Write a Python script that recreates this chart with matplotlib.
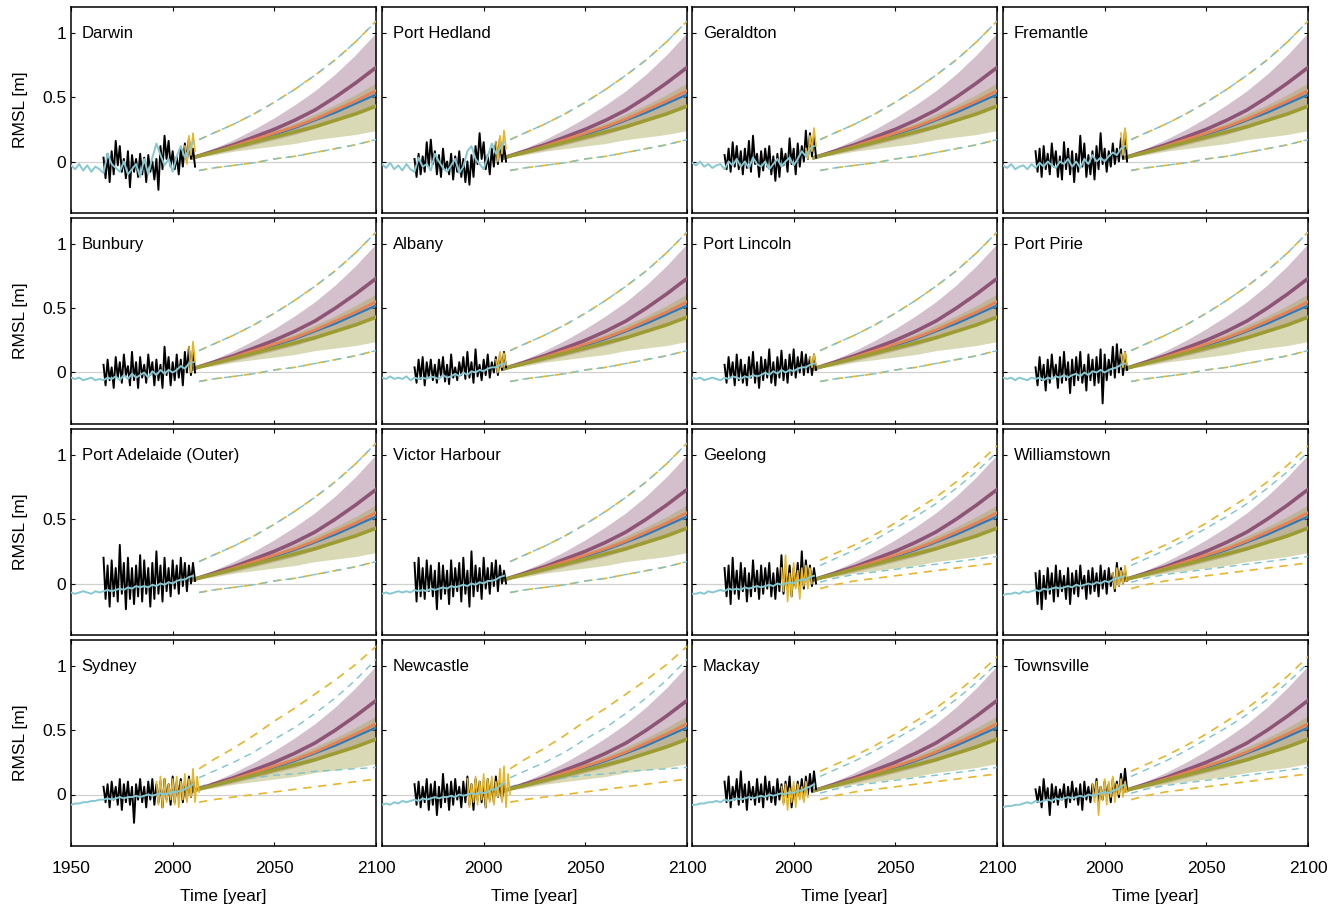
import numpy as np
import matplotlib.pyplot as plt

plt.rcParams['font.family'] = ['Liberation Sans', 'DejaVu Sans']

# time axes shared by the stations
blue_years = list(range(1950, 2011, 2))
obs_start = 1966
proj_years = [2010, 2020, 2030, 2040, 2050, 2060, 2070, 2080, 2090, 2100]

# projections (m), read at decade points
purple_mid = [0.03, 0.08, 0.13, 0.19, 0.25, 0.32, 0.40, 0.50, 0.61, 0.73]
purple_hi = [0.03, 0.10, 0.17, 0.25, 0.34, 0.44, 0.55, 0.68, 0.83, 1.00]
purple_lo = [0.03, 0.06, 0.09, 0.13, 0.17, 0.21, 0.26, 0.32, 0.38, 0.45]
olive_mid = [0.03, 0.07, 0.11, 0.15, 0.19, 0.23, 0.27, 0.32, 0.37, 0.43]
olive_hi = [0.03, 0.08, 0.13, 0.18, 0.24, 0.30, 0.37, 0.44, 0.52, 0.61]
olive_lo = [0.03, 0.05, 0.08, 0.10, 0.12, 0.14, 0.17, 0.19, 0.21, 0.24]
orange_mid = [0.03, 0.07, 0.12, 0.17, 0.22, 0.27, 0.33, 0.40, 0.47, 0.55]
blue_mid = [0.03, 0.07, 0.11, 0.16, 0.21, 0.26, 0.32, 0.38, 0.45, 0.52]

# dashed envelopes
dash_years = [2013, 2020, 2030, 2040, 2050, 2060, 2070, 2080, 2090, 2100]
teal_up = [0.17, 0.22, 0.29, 0.37, 0.46, 0.56, 0.67, 0.79, 0.93, 1.09]
teal_lo = [-0.07, -0.05, -0.03, -0.01, 0.02, 0.04, 0.07, 0.10, 0.13, 0.17]
teal_up_near = [0.14, 0.19, 0.26, 0.34, 0.43, 0.52, 0.62, 0.74, 0.87, 1.02]
teal_lo_near = [0.01, 0.04, 0.07, 0.09, 0.11, 0.13, 0.15, 0.17, 0.19, 0.21]
gold_up_near = [0.18, 0.23, 0.30, 0.38, 0.47, 0.57, 0.67, 0.79, 0.92, 1.07]
gold_lo_near = [-0.04, -0.01, 0.02, 0.04, 0.06, 0.08, 0.10, 0.12, 0.14, 0.16]
gold_up_wide = [0.20, 0.27, 0.36, 0.46, 0.57, 0.67, 0.78, 0.89, 1.01, 1.15]
gold_lo_wide = [-0.06, -0.04, -0.02, 0.00, 0.02, 0.04, 0.06, 0.08, 0.10, 0.12]
teal_up_wide = [0.13, 0.18, 0.25, 0.33, 0.43, 0.52, 0.63, 0.75, 0.89, 1.05]
teal_lo_wide = [0.06, 0.09, 0.11, 0.13, 0.15, 0.16, 0.18, 0.19, 0.20, 0.21]

# --- station records: smoothed (blue), black gauge highs/lows per 2-yr, optional gold gauge ---
darwin_blue = [-0.03, -0.06, -0.02, -0.07, -0.03, -0.08, -0.04, -0.06, -0.09, 0.06, -0.02, -0.05, -0.08, 0.0, -0.1, -0.06,
               -0.02, -0.12, 0.02, -0.1, 0.03, 0.14, 0.05, -0.03, 0.02, -0.08, 0.04, 0.12, 0.03, 0.09, 0.15]
darwin_hi = [0.03, 0.06, 0.08, 0.16, 0.12, 0.02, 0.08, 0.05, 0.02, 0.06, 0.03, 0.05, 0.0, 0.02, 0.12, 0.2, 0.16, 0.08, 0.04, 0.1, 0.14, 0.18, 0.1]
darwin_lo = [-0.13, -0.16, -0.1, -0.03, -0.08, -0.13, -0.2, -0.08, -0.12, -0.1, -0.16, -0.08, -0.14, -0.22, -0.06, 0.02, -0.04, -0.06, -0.1, -0.04, 0.0, 0.02, -0.04]
darwin_gold = (2006, [0.12, 0.2, 0.22], [-0.02, 0.05, 0.08])

hedland_blue = [-0.02, -0.05, -0.01, -0.06, -0.03, -0.07, -0.02, -0.06, -0.08, 0.03, -0.04, -0.02, -0.07, 0.06, 0.0, -0.05,
                -0.08, -0.03, 0.02, -0.09, -0.04, 0.08, 0.12, 0.02, -0.02, -0.06, 0.04, 0.14, 0.06, 0.1, 0.15]
hedland_hi = [0.02, 0.06, 0.04, 0.15, 0.17, 0.08, 0.05, 0.1, 0.0, 0.06, 0.04, 0.08, 0.02, 0.0, 0.05, 0.12, 0.22, 0.15, 0.05, 0.1, 0.15, 0.18, 0.12]
hedland_lo = [-0.12, -0.1, -0.08, -0.04, -0.02, -0.1, -0.12, -0.06, -0.1, -0.14, -0.08, -0.12, -0.16, -0.18, -0.12, -0.02, 0.02, -0.06, -0.1, -0.04, -0.02, 0.0, 0.0]
hedland_gold = (2006, [0.15, 0.2, 0.24], [0.0, 0.06, 0.1])

geraldton_blue = [-0.01, -0.03, 0.0, -0.04, -0.02, -0.05, -0.03, -0.02, -0.06, 0.0, -0.03, 0.02, -0.04, 0.0, -0.05, 0.03,
                  -0.02, -0.04, 0.0, -0.06, -0.02, 0.02, -0.04, 0.0, 0.03, -0.03, 0.02, 0.08, 0.04, 0.1, 0.12]
geraldton_hi = [0.05, 0.1, 0.15, 0.12, 0.08, 0.1, 0.16, 0.2, 0.06, 0.08, 0.1, 0.12, 0.04, 0.06, 0.1, 0.06, 0.18, 0.1, 0.14, 0.12, 0.24, 0.22, 0.2]
geraldton_lo = [-0.06, -0.08, -0.04, -0.06, -0.1, -0.05, -0.08, -0.02, -0.12, -0.07, -0.04, -0.1, -0.15, -0.12, -0.03, -0.08, -0.02, -0.1, -0.04, 0.0, 0.02, 0.04, 0.03]
geraldton_gold = (2006, [0.1, 0.2, 0.26], [0.02, 0.08, 0.12])

fremantle_blue = [-0.03, -0.05, -0.02, -0.06, -0.04, -0.03, -0.06, -0.02, -0.05, -0.01, -0.04, 0.0, -0.03, -0.05, 0.0, -0.02,
                  0.02, -0.04, 0.0, -0.05, 0.02, -0.02, 0.05, 0.0, 0.03, 0.0, 0.04, 0.07, 0.05, 0.1, 0.12]
fremantle_hi = [0.08, 0.1, 0.12, 0.06, 0.14, 0.08, 0.04, 0.15, 0.1, 0.08, 0.06, 0.2, 0.14, 0.05, 0.08, 0.12, 0.22, 0.1, 0.08, 0.14, 0.1, 0.18, 0.24]
fremantle_lo = [-0.08, -0.12, -0.06, -0.1, -0.04, -0.12, -0.14, -0.06, -0.1, -0.16, -0.08, -0.04, -0.12, -0.1, -0.14, -0.06, -0.02, -0.08, -0.04, -0.02, 0.0, 0.02, 0.0]
fremantle_gold = (2008, [0.22, 0.26], [0.05, 0.1])

bunbury_blue = [-0.04, -0.05, -0.04, -0.06, -0.05, -0.04, -0.06, -0.05, -0.06, -0.04, -0.05, -0.03, -0.06, -0.02, -0.05, -0.01,
                -0.04, -0.02, 0.0, -0.04, 0.01, -0.02, 0.02, -0.01, 0.02, 0.0, 0.02, 0.05, 0.03, 0.07, 0.08]
bunbury_hi = [0.06, 0.1, 0.04, 0.12, 0.08, 0.14, 0.05, 0.16, 0.08, 0.12, 0.06, 0.14, 0.08, 0.1, 0.06, 0.2, 0.12, 0.08, 0.14, 0.1, 0.16, 0.2, 0.18]
bunbury_lo = [-0.1, -0.06, -0.12, -0.04, -0.08, -0.02, -0.1, -0.06, -0.12, -0.04, -0.08, -0.02, -0.1, -0.06, -0.12, -0.02, -0.1, -0.06, -0.04, -0.1, 0.0, -0.02, 0.0]
bunbury_gold = (2008, [0.2, 0.24], [0.0, 0.08])

albany_blue = [-0.04, -0.05, -0.03, -0.05, -0.04, -0.05, -0.03, -0.06, -0.04, -0.05, -0.04, -0.05, -0.03, -0.04, -0.05, -0.02,
               -0.04, -0.03, -0.01, -0.03, 0.0, -0.02, 0.01, 0.0, 0.02, 0.01, 0.03, 0.04, 0.04, 0.06, 0.07]
albany_hi = [0.04, 0.1, 0.12, 0.08, 0.1, 0.06, 0.1, 0.12, 0.06, 0.14, 0.04, 0.08, 0.12, 0.16, 0.08, 0.18, 0.06, 0.1, 0.14, 0.08, 0.12, 0.14, 0.16]
albany_lo = [-0.08, -0.05, -0.1, -0.04, -0.06, -0.08, -0.03, -0.07, -0.09, -0.04, -0.06, -0.02, -0.05, -0.04, -0.08, -0.03, -0.06, -0.02, -0.04, 0.0, -0.02, 0.02, 0.04]
albany_gold = (2006, [0.1, 0.16, 0.15], [0.0, 0.04, 0.06])

lincoln_blue = [-0.04, -0.05, -0.04, -0.06, -0.05, -0.04, -0.05, -0.06, -0.04, -0.05, -0.03, -0.04, -0.05, -0.03, -0.04, -0.02,
                -0.03, -0.02, 0.0, -0.02, 0.01, -0.01, 0.02, 0.0, 0.02, 0.01, 0.03, 0.04, 0.04, 0.06, 0.07]
lincoln_hi = [0.06, 0.12, 0.08, 0.14, 0.1, 0.06, 0.12, 0.16, 0.08, 0.12, 0.1, 0.18, 0.08, 0.12, 0.17, 0.1, 0.14, 0.18, 0.12, 0.16, 0.14, 0.12, 0.14]
lincoln_lo = [-0.08, -0.04, -0.1, -0.06, -0.08, -0.1, -0.04, -0.08, -0.12, -0.06, -0.04, -0.08, -0.1, -0.04, -0.06, -0.08, -0.02, -0.04, 0.0, -0.02, 0.0, -0.02, 0.02]
lincoln_gold = (2008, [0.12, 0.14], [0.04, 0.06])

pirie_blue = [-0.04, -0.05, -0.04, -0.06, -0.04, -0.05, -0.06, -0.04, -0.05, -0.04, -0.06, -0.04, -0.05, -0.03, -0.04, -0.02,
              -0.04, -0.02, -0.01, -0.03, 0.0, -0.02, 0.01, 0.0, 0.02, 0.0, 0.02, 0.03, 0.04, 0.06, 0.07]
pirie_hi = [0.04, 0.12, 0.06, 0.1, 0.14, 0.06, 0.12, 0.16, 0.08, 0.1, 0.12, 0.16, 0.06, 0.14, 0.1, 0.12, 0.18, 0.14, 0.1, 0.2, 0.22, 0.18, 0.16]
pirie_lo = [-0.1, -0.06, -0.14, -0.08, -0.04, -0.12, -0.08, -0.06, -0.16, -0.1, -0.06, -0.08, -0.14, -0.06, -0.1, -0.08, -0.24, -0.06, -0.02, -0.04, 0.0, -0.02, 0.02]
pirie_gold = (2008, [0.14, 0.16], [0.04, 0.06])

adelaide_blue = [-0.07, -0.08, -0.07, -0.06, -0.07, -0.08, -0.06, -0.07, -0.06, -0.05, -0.06, -0.05, -0.04, -0.05, -0.03, -0.04,
                 -0.02, -0.03, -0.02, -0.03, -0.01, -0.02, 0.0, -0.01, 0.01, 0.0, 0.02, 0.03, 0.03, 0.05, 0.06]
adelaide_hi = [0.2, 0.14, 0.18, 0.12, 0.3, 0.16, 0.2, 0.12, 0.14, 0.22, 0.18, 0.12, 0.16, 0.25, 0.14, 0.2, 0.12, 0.18, 0.14, 0.2, 0.16, 0.14, 0.16]
adelaide_lo = [-0.12, -0.18, -0.1, -0.14, -0.08, -0.2, -0.12, -0.16, -0.1, -0.14, -0.08, -0.18, -0.12, -0.08, -0.14, -0.06, -0.1, -0.04, -0.08, -0.02, -0.06, 0.0, 0.02]

victor_blue = [-0.08, -0.07, -0.08, -0.07, -0.06, -0.07, -0.06, -0.07, -0.05, -0.06, -0.05, -0.06, -0.04, -0.05, -0.04, -0.03,
               -0.04, -0.02, -0.03, -0.02, -0.01, -0.02, 0.0, -0.01, 0.01, 0.0, 0.02, 0.02, 0.03, 0.05, 0.06]
victor_hi = [0.16, 0.2, 0.12, 0.18, 0.14, 0.1, 0.16, 0.14, 0.1, 0.18, 0.12, 0.16, 0.2, 0.1, 0.25, 0.14, 0.12, 0.2, 0.12, 0.16, 0.18, 0.14, 0.1]
victor_lo = [-0.14, -0.1, -0.12, -0.06, -0.1, -0.2, -0.12, -0.08, -0.16, -0.1, -0.06, -0.14, -0.08, -0.18, -0.1, -0.06, -0.12, -0.04, -0.08, -0.02, -0.06, 0.0, 0.0]

geelong_blue = [-0.08, -0.08, -0.07, -0.08, -0.06, -0.07, -0.06, -0.05, -0.06, -0.04, -0.05, -0.04, -0.05, -0.03, -0.04, -0.03,
                -0.02, -0.03, -0.02, -0.01, -0.02, 0.0, -0.01, 0.0, 0.01, 0.0, 0.02, 0.03, 0.03, 0.05, 0.06]
geelong_hi = [0.12, 0.14, 0.2, 0.1, 0.16, 0.12, 0.08, 0.18, 0.1, 0.14, 0.12, 0.16, 0.08, 0.12, 0.22, 0.1, 0.14, 0.12, 0.16, 0.25, 0.18, 0.14, 0.12]
geelong_lo = [-0.1, -0.16, -0.08, -0.12, -0.06, -0.14, -0.1, -0.06, -0.12, -0.08, -0.04, -0.1, -0.12, -0.06, -0.08, -0.04, -0.1, -0.02, -0.06, -0.04, 0.0, -0.02, 0.0]
geelong_gold = (1994, [0.12, 0.22, 0.08, 0.16, 0.1, 0.12, 0.14, 0.12], [-0.06, -0.14, -0.1, -0.04, -0.12, -0.02, -0.04, 0.0])

williams_blue = [-0.09, -0.08, -0.08, -0.07, -0.08, -0.06, -0.07, -0.06, -0.05, -0.06, -0.04, -0.05, -0.04, -0.03, -0.04, -0.03,
                 -0.02, -0.03, -0.01, -0.02, -0.01, 0.0, -0.01, 0.01, 0.0, 0.02, 0.01, 0.03, 0.04, 0.05, 0.06]
williams_hi = [0.08, 0.1, 0.06, 0.12, 0.08, 0.14, 0.1, 0.06, 0.12, 0.08, 0.1, 0.14, 0.06, 0.1, 0.12, 0.08, 0.14, 0.1, 0.12, 0.08, 0.16, 0.12, 0.1]
williams_lo = [-0.16, -0.2, -0.12, -0.08, -0.14, -0.1, -0.06, -0.12, -0.16, -0.08, -0.1, -0.04, -0.12, -0.08, -0.06, -0.1, -0.04, -0.08, -0.02, -0.06, -0.02, 0.0, 0.02]
williams_gold = (2004, [0.08, 0.12, 0.1, 0.14], [-0.04, -0.02, 0.0, 0.02])

sydney_blue = [-0.08, -0.07, -0.07, -0.06, -0.06, -0.05, -0.05, -0.04, -0.04, -0.03, -0.04, -0.03, -0.02, -0.03, -0.02, -0.02,
               -0.01, -0.02, -0.01, 0.0, -0.01, 0.0, 0.01, 0.0, 0.01, 0.02, 0.02, 0.03, 0.04, 0.06, 0.08]
sydney_hi = [0.06, 0.08, 0.1, 0.06, 0.12, 0.08, 0.1, 0.06, 0.08, 0.12, 0.06, 0.1, 0.12, 0.08, 0.1, 0.12, 0.08, 0.14, 0.1, 0.12, 0.1, 0.14, 0.12]
sydney_lo = [-0.06, -0.1, -0.04, -0.08, -0.12, -0.06, -0.08, -0.22, -0.04, -0.06, -0.1, -0.04, -0.08, -0.06, -0.1, -0.04, -0.08, -0.06, -0.02, -0.06, -0.04, -0.02, 0.0]
sydney_gold = (1992, [0.1, 0.14, 0.12, 0.08, 0.12, 0.14, 0.1, 0.16, 0.12, 0.2, 0.14],
               [-0.08, -0.1, -0.06, -0.04, -0.08, -0.1, -0.04, -0.06, -0.02, -0.06, 0.02])

newcastle_blue = [-0.08, -0.07, -0.08, -0.06, -0.07, -0.05, -0.06, -0.05, -0.04, -0.05, -0.03, -0.04, -0.03, -0.02, -0.03, -0.02,
                  -0.02, -0.01, -0.02, 0.0, -0.01, 0.0, 0.01, 0.0, 0.02, 0.01, 0.02, 0.04, 0.04, 0.07, 0.09]
newcastle_hi = [0.08, 0.1, 0.06, 0.12, 0.08, 0.1, 0.06, 0.16, 0.08, 0.1, 0.12, 0.06, 0.1, 0.14, 0.08, 0.12, 0.1, 0.08, 0.12, 0.1, 0.14, 0.1, 0.08]
newcastle_lo = [-0.08, -0.1, -0.06, -0.12, -0.08, -0.16, -0.1, -0.06, -0.12, -0.08, -0.04, -0.1, -0.06, -0.08, -0.12, -0.04, -0.06, -0.1, -0.04, -0.06, -0.02, -0.04, 0.0]
newcastle_gold = (1992, [0.12, 0.08, 0.14, 0.1, 0.16, 0.12, 0.14, 0.1, 0.2, 0.22, 0.16],
                  [-0.1, -0.06, -0.08, -0.04, -0.1, -0.06, -0.08, -0.02, -0.06, -0.1, 0.0])

mackay_blue = [-0.08, -0.08, -0.07, -0.07, -0.06, -0.06, -0.05, -0.06, -0.04, -0.05, -0.04, -0.03, -0.04, -0.03, -0.02, -0.03,
               -0.02, -0.01, -0.02, 0.0, -0.01, 0.0, 0.01, 0.0, 0.02, 0.01, 0.03, 0.03, 0.05, 0.06, 0.08]
mackay_hi = [0.1, 0.14, 0.06, 0.12, 0.18, 0.08, 0.1, 0.06, 0.12, 0.08, 0.14, 0.1, 0.06, 0.12, 0.08, 0.1, 0.14, 0.06, 0.1, 0.12, 0.14, 0.16, 0.18]
mackay_lo = [-0.06, -0.1, -0.04, -0.08, -0.06, -0.12, -0.04, -0.08, -0.06, -0.1, -0.04, -0.06, -0.08, -0.04, -0.06, -0.02, -0.1, -0.04, -0.02, -0.04, 0.0, 0.02, 0.04]
mackay_gold = (1994, [0.06, 0.08, 0.05, 0.1, 0.08, 0.06, 0.1], [-0.08, -0.12, -0.06, -0.1, -0.04, -0.06, -0.02])

townsville_blue = [-0.1, -0.09, -0.09, -0.08, -0.08, -0.07, -0.06, -0.07, -0.05, -0.06, -0.05, -0.04, -0.05, -0.03, -0.04, -0.03,
                   -0.02, -0.03, -0.02, -0.01, -0.02, 0.0, -0.01, 0.0, 0.01, 0.02, 0.01, 0.03, 0.04, 0.06, 0.08]
townsville_hi = [0.04, 0.06, 0.12, 0.05, 0.08, 0.06, 0.04, 0.08, 0.06, 0.1, 0.05, 0.08, 0.1, 0.06, 0.08, 0.12, 0.06, 0.1, 0.08, 0.12, 0.1, 0.16, 0.2]
townsville_lo = [-0.06, -0.1, -0.04, -0.16, -0.06, -0.08, -0.04, -0.1, -0.06, -0.04, -0.08, -0.12, -0.04, -0.06, -0.02, -0.08, -0.04, -0.02, -0.06, 0.0, -0.02, 0.02, 0.04]
townsville_gold = (1994, [0.08, 0.1, 0.06, 0.12, 0.1, 0.14, 0.08, 0.12, 0.1],
                   [-0.06, -0.16, -0.04, -0.08, -0.02, -0.06, 0.0, -0.02, 0.02])

stations = [
    ("Darwin", darwin_blue, darwin_hi, darwin_lo, darwin_gold, "same"),
    ("Port Hedland", hedland_blue, hedland_hi, hedland_lo, hedland_gold, "same"),
    ("Geraldton", geraldton_blue, geraldton_hi, geraldton_lo, geraldton_gold, "same"),
    ("Fremantle", fremantle_blue, fremantle_hi, fremantle_lo, fremantle_gold, "same"),
    ("Bunbury", bunbury_blue, bunbury_hi, bunbury_lo, bunbury_gold, "same"),
    ("Albany", albany_blue, albany_hi, albany_lo, albany_gold, "same"),
    ("Port Lincoln", lincoln_blue, lincoln_hi, lincoln_lo, lincoln_gold, "same"),
    ("Port Pirie", pirie_blue, pirie_hi, pirie_lo, pirie_gold, "same"),
    ("Port Adelaide (Outer)", adelaide_blue, adelaide_hi, adelaide_lo, None, "same"),
    ("Victor Harbour", victor_blue, victor_hi, victor_lo, None, "same"),
    ("Geelong", geelong_blue, geelong_hi, geelong_lo, geelong_gold, "near"),
    ("Williamstown", williams_blue, williams_hi, williams_lo, williams_gold, "near"),
    ("Sydney", sydney_blue, sydney_hi, sydney_lo, sydney_gold, "wide"),
    ("Newcastle", newcastle_blue, newcastle_hi, newcastle_lo, newcastle_gold, "wide"),
    ("Mackay", mackay_blue, mackay_hi, mackay_lo, mackay_gold, "near"),
    ("Townsville", townsville_blue, townsville_hi, townsville_lo, townsville_gold, "near"),
]

dash_sets = {
    "same": (teal_up, teal_lo, teal_up, teal_lo),
    "near": (teal_up_near, teal_lo_near, gold_up_near, gold_lo_near),
    "wide": (teal_up_wide, teal_lo_wide, gold_up_wide, gold_lo_wide),
}

c_teal = '#86c8d3'
c_gold = '#e6b52a'
c_dash_teal = '#7cc3cc'


def zigzag(start, hi, lo):
    # alternate each 2-yr high and low so the trace looks like a dense gauge record
    xs, ys = [], []
    for i, (h, l) in enumerate(zip(hi, lo)):
        xs += [start + 2 * i, start + 2 * i + 1]
        ys += [h, l]
    return xs, ys


fig = plt.figure(figsize=(13.41, 9.07), dpi=100)
W, H = 1341, 907
col_left = [71, 382, 692, 1003]
row_top = [7, 218, 429, 640]
pw, ph = 305, 206

for k, (name, blue, hi, lo, gold, dset) in enumerate(stations):
    r, c = divmod(k, 4)
    ax = fig.add_axes([col_left[c] / W, 1 - (row_top[r] + ph) / H, pw / W, ph / H])

    ax.axhline(0, color='#d0d0d0', lw=0.9, zorder=1)

    # projections
    ax.fill_between(proj_years, purple_lo, purple_hi, color='#8c5a7a', alpha=0.38, lw=0, zorder=2)
    ax.fill_between(proj_years, olive_lo, olive_hi, color='#a3a04a', alpha=0.4, lw=0, zorder=2)
    ax.plot(proj_years, purple_mid, color='#8e5475', lw=2.6, zorder=4)
    ax.plot(proj_years, blue_mid, color='#2a7bbd', lw=1.6, zorder=4)
    ax.plot(proj_years, orange_mid, color='#e58255', lw=2.0, zorder=4)
    ax.plot(proj_years, olive_mid, color='#9c9c32', lw=2.6, zorder=5)

    # dashed envelopes
    t_up, t_lo, g_up, g_lo = dash_sets[dset]
    for g in (g_up, g_lo):
        ax.plot(dash_years, g, color=c_gold, lw=1.2, dashes=(5, 4), zorder=3)
    for t in (t_up, t_lo):
        ax.plot(dash_years, t, color=c_dash_teal, lw=1.0, dashes=(5, 4), zorder=3)

    # observations
    xs, ys = zigzag(obs_start, hi, lo)
    ax.plot(xs, ys, color='black', lw=1.4, zorder=6)
    if gold is not None:
        gx, gy = zigzag(gold[0], gold[1], gold[2])
        ax.plot(gx, gy, color=c_gold, lw=1.2, zorder=7)
    ax.plot(blue_years, blue, color=c_teal, lw=1.4, zorder=8)

    ax.set_xlim(1950, 2100)
    ax.set_ylim(-0.4, 1.2)
    ax.set_xticks([1950, 2000, 2050, 2100])
    ax.set_yticks([0, 0.5, 1])
    ax.tick_params(direction='in', top=True, right=True, length=3, width=0.8, labelsize=12.5)
    for s in ax.spines.values():
        s.set_linewidth(1.1)

    if c == 0:
        ax.set_yticklabels(['0', '0.5', '1'])
        ax.set_ylabel('RMSL [m]', fontsize=12.5, labelpad=10)
    else:
        ax.set_yticklabels([])
    if r == 3:
        if c == 0:
            ax.set_xticklabels(['1950', '2000', '2050', '2100'])
        else:
            ax.set_xticklabels(['', '2000', '2050', '2100'])
        ax.set_xlabel('Time [year]', fontsize=12.5, labelpad=9)
        ax.tick_params(axis='x', pad=11)
    else:
        ax.set_xticklabels([])

    ax.text(0.035, 0.87, name, transform=ax.transAxes, fontsize=12, va='center', ha='left')

fig.savefig('out.png', dpi=100)
